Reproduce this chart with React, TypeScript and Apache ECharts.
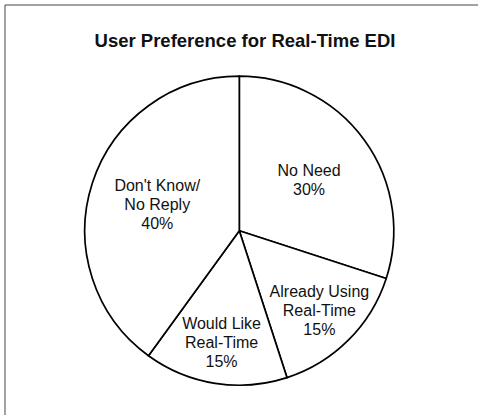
import React, { useEffect, useRef } from "react";
import * as echarts from "echarts";

const titleText = "User Preference for Real-Time EDI";
const categories = ["No Need", "Already Using\nReal-Time", "Would Like\nReal-Time", "Don't Know/\nNo Reply"];
const values = [30, 15, 15, 40];
// labels of the large slices sit nearer the centre than those of the small slices
const largeSlice = [true, false, false, true];

export default function App() {
  const ref = useRef<HTMLDivElement>(null);
  useEffect(() => {
    if (!ref.current) return;
    const chart = echarts.init(ref.current, undefined, { renderer: "svg" });
    const center = [239.3, 230.7];
    const R = 154.5;
    const font = "'Liberation Sans', Arial, Helvetica, sans-serif";
    const baseData = categories.map((c, i) => ({ name: c, value: values[i] }));
    const labelSeries = (radius: [number, number], showFor: boolean) => ({
      type: "pie",
      center,
      radius,
      startAngle: 90,
      clockwise: true,
      silent: true,
      z: 5,
      itemStyle: { color: "rgba(0,0,0,0)", borderWidth: 0 },
      labelLine: { show: false },
      data: baseData.map((d, i) => ({
        ...d,
        label: { show: largeSlice[i] === showFor },
      })),
      label: {
        position: "inside",
        formatter: "{b}\n{c}%",
        color: "#111",
        fontFamily: font,
        fontSize: 16,
        lineHeight: 19,
        align: "center",
      },
      emphasis: { disabled: true },
    });
    chart.setOption({
      animation: false,
      backgroundColor: "#ffffff",
      graphic: [
        { type: "line", shape: { x1: 5, y1: 5, x2: 478, y2: 5 }, style: { stroke: "#444", lineWidth: 1 } },
        { type: "line", shape: { x1: 5, y1: 5, x2: 5, y2: 415 }, style: { stroke: "#444", lineWidth: 1 } },
        {
          type: "text",
          x: 245,
          y: 40.5,
          style: {
            text: titleText,
            fontFamily: font,
            fontWeight: "bold",
            fontSize: 18.5,
            fill: "#111",
            textAlign: "center",
            textVerticalAlign: "middle",
          },
        },
      ],
      series: [
        {
          type: "pie",
          center,
          radius: [0, R],
          startAngle: 90,
          clockwise: true,
          silent: true,
          itemStyle: { color: "#ffffff", borderColor: "#000", borderWidth: 1.7 },
          label: { show: false },
          labelLine: { show: false },
          emphasis: { disabled: true },
          data: baseData,
        },
        labelSeries([12, R], true),
        labelSeries([66, R], false),
      ],
    });
    return () => chart.dispose();
  }, []);
  return (
    <div
      ref={ref}
      style={{ position: "absolute", left: 0, top: 0, width: 478, height: 415, background: "#fff" }}
    />
  );
}
